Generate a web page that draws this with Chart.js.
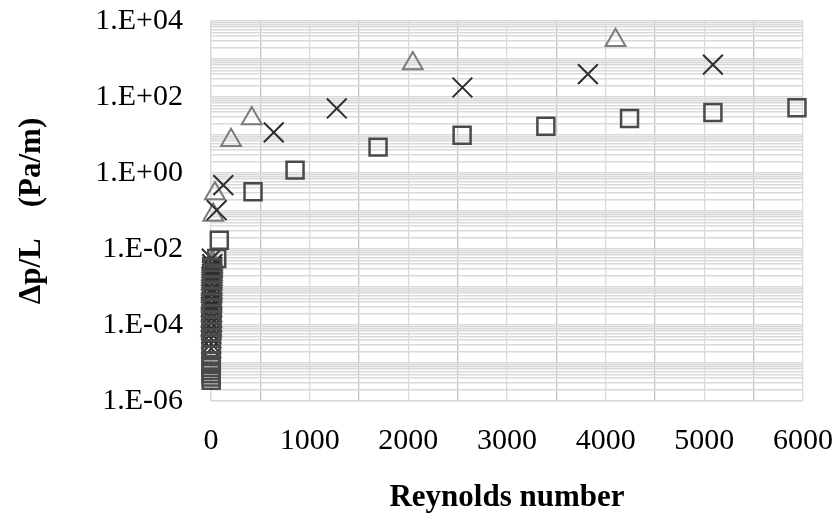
<!DOCTYPE html>
<html>
<head>
<meta charset="utf-8">
<script src="https://cdn.jsdelivr.net/npm/chart.js@4"></script>
<style>
  html, body { margin: 0; padding: 0; background: #ffffff; }
  #wrap { width: 837px; height: 522px; }
</style>
</head>
<body>
<div id="wrap"><canvas id="c" width="837" height="522"></canvas></div>
<script>
// ---- data ----
const triReynolds = [4100, 2045, 413, 203, 40, 23, 14, 13, 12, 11, 11, 10, 10, 9, 9, 8, 8, 8, 7, 7, 6, 6, 6, 5, 5, 5, 4, 4, 3];
const triDpL      = [3100, 760, 27, 7.3, 0.29, 0.078, 4.6e-3, 4.0e-3, 3.5e-3, 3.0e-3, 2.6e-3, 2.2e-3, 1.9e-3, 1.6e-3, 1.4e-3, 1.2e-3, 1.0e-3, 8.7e-4, 7.6e-4, 6.6e-4, 5.7e-4, 4.3e-4, 3.7e-4, 3.2e-4, 2.4e-4, 1.8e-4, 1.3e-4, 9.8e-5, 7.4e-5];

const crossReynolds = [5087, 3820, 2548, 1275, 636, 125, 58, 7, 13, 12, 11, 10, 10, 9, 9, 8, 8, 7, 7, 6, 6, 5, 5, 5, 4, 4, 3, 3, 2, 2, 2];
const crossDpL      = [710, 400, 178, 50, 11.7, 0.48, 0.105, 5.6e-3, 4.0e-3, 3.4e-3, 3.0e-3, 2.6e-3, 2.2e-3, 1.9e-3, 1.6e-3, 1.2e-3, 8.8e-4, 7.6e-4, 6.6e-4, 4.9e-4, 3.6e-4, 3.1e-4, 2.7e-4, 2.0e-4, 1.5e-4, 1.1e-4, 8.0e-5, 5.9e-5, 4.4e-5, 3.2e-5, 2.4e-5];

const sqReynolds = [5939, 5087, 4242, 3394, 2545, 1693, 852, 426, 84, 58, 16, 14, 12, 11, 10, 9, 8, 7, 6, 6, 5, 5, 4, 4, 3, 3, 3, 3, 2, 2, 2, 2, 2];
const sqDpL      = [52, 39, 27, 17, 9.9, 4.8, 1.19, 0.32, 0.017, 5.6e-3, 3.2e-3, 2.3e-3, 1.6e-3, 1.1e-3, 7.8e-4, 5.5e-4, 3.9e-4, 2.7e-4, 1.9e-4, 1.3e-4, 9.4e-5, 6.6e-5, 4.6e-5, 3.2e-5, 2.3e-5, 1.6e-5, 1.1e-5, 9.0e-6, 7.5e-6, 6.2e-6, 5.2e-6, 4.3e-6, 3.5e-6];

const yLabelValues = [1e-6, 1e-4, 1e-2, 1e0, 1e2, 1e4];
const yTickLabels  = ['1.E-06', '1.E-04', '1.E-02', '1.E+00', '1.E+02', '1.E+04'];
const xTickLabels  = ['0', '1000', '2000', '3000', '4000', '5000', '6000'];

const xTitle = 'Reynolds number';
const yTitle = 'Δp/L    (Pa/m)';

// ---- build ----
function pts(xs, ys) { return xs.map((x, i) => ({ x: x, y: ys[i] })); }

const yGridValues = [];
for (let e = -6; e <= 4; e++) {
  const base = Math.pow(10, e);
  yGridValues.push(base);
  if (e < 4) for (let m = 2; m <= 9; m++) yGridValues.push(m * base);
}

function yLabel(v) {
  for (let i = 0; i < yLabelValues.length; i++) {
    if (Math.abs(v - yLabelValues[i]) / yLabelValues[i] < 1e-9) return yTickLabels[i];
  }
  return '';
}

const tickFont = { family: '"Liberation Serif", "Times New Roman", serif', size: 30 };
const titleFont = { family: '"Liberation Serif", "Times New Roman", serif', size: 31, weight: 'bold' };

new Chart(document.getElementById('c'), {
  type: 'scatter',
  data: {
    datasets: [
      { label: 'squares', data: pts(sqReynolds, sqDpL), pointStyle: 'rect', pointRadius: 12, clip: false,
        borderColor: '#4a4a4a', backgroundColor: 'rgba(0,0,0,0)', pointBorderWidth: 2.5 },
      { label: 'crosses', data: pts(crossReynolds, crossDpL), pointStyle: 'crossRot', pointRadius: 14, clip: false,
        borderColor: '#2e2e2e', backgroundColor: 'rgba(0,0,0,0)', pointBorderWidth: 2 },
      { label: 'triangles', data: pts(triReynolds, triDpL), pointStyle: 'triangle', pointRadius: 11.5, clip: false,
        borderColor: '#7c7c7c', backgroundColor: 'rgba(0,0,0,0)', pointBorderWidth: 2 }
    ]
  },
  options: {
    responsive: false,
    animation: false,
    devicePixelRatio: 1,
    layout: { padding: { left: 0, right: 34, top: 21, bottom: 0 } },
    plugins: { legend: { display: false }, tooltip: { enabled: false } },
    scales: {
      x: {
        type: 'linear', min: 0, max: 6000,
        ticks: {
          stepSize: 500, autoSkip: false, maxRotation: 0, padding: 22,
          color: '#000', font: tickFont,
          callback: (v) => (v % 1000 === 0 ? xTickLabels[v / 1000] : '')
        },
        grid: {
          drawTicks: false, lineWidth: 1.3,
          color: (ctx) => (ctx.tick && ctx.tick.value % 1000 !== 0 ? '#c4c4c4' : '#dadada')
        },
        border: { color: '#d9d9d9', width: 1.3 },
        title: { display: true, text: xTitle, color: '#000', font: titleFont, padding: { top: 0, bottom: 5 } },
        afterFit: (s) => { s.height = 121; s.paddingLeft = 0; s.paddingRight = 0; }
      },
      y: {
        type: 'logarithmic', min: 1e-6, max: 1e4,
        afterBuildTicks: (s) => { s.ticks = yGridValues.map(v => ({ value: v })); },
        ticks: { autoSkip: false, padding: 28, color: '#000', font: tickFont, callback: (v) => yLabel(v) },
        grid: { drawTicks: false, lineWidth: 1.4, color: '#dadada' },
        border: { color: '#d9d9d9', width: 1.3 },
        title: { display: true, text: yTitle, color: '#000', font: titleFont, padding: { top: 13, bottom: 0 } },
        afterFit: (s) => { s.width = 211; s.paddingTop = 0; s.paddingBottom = 0; }
      }
    }
  }
});
</script>
</body>
</html>
